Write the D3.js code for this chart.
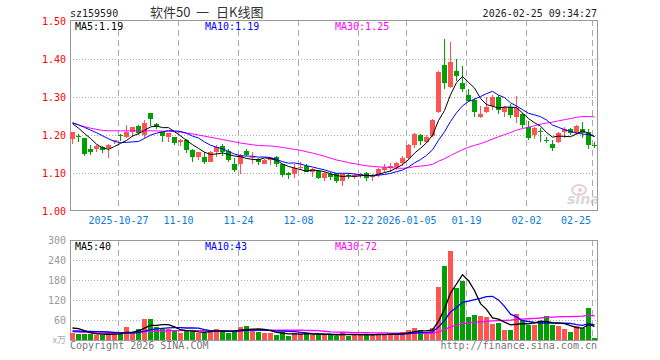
<!DOCTYPE html>
<html><head><meta charset="utf-8">
<script src="https://cdn.jsdelivr.net/npm/d3@7/dist/d3.min.js"></script>
<style>body{margin:0;background:#fff}svg{display:block}</style>
</head><body>
<svg id="chart" width="660" height="360"></svg>
<script>
// ---- data ----
const dates = ["10-15","10-16","10-17","10-20","10-21","10-22","10-23","10-24","10-27","10-28","10-29","10-30","10-31",
"11-03","11-04","11-05","11-06","11-07","11-10","11-11","11-12","11-13","11-14","11-17","11-18","11-19","11-20","11-21","11-24","11-25","11-26","11-27","11-28",
"12-01","12-02","12-03","12-04","12-05","12-08","12-09","12-10","12-11","12-12","12-15","12-16","12-17","12-18","12-19","12-22","12-23","12-24","12-25","12-26","12-29","12-30","12-31",
"01-05","01-06","01-07","01-08","01-09","01-12","01-13","01-14","01-15","01-16","01-19","01-20","01-21","01-22","01-23","01-26","01-27","01-28","01-29","01-30",
"02-02","02-03","02-04","02-05","02-06","02-09","02-10","02-11","02-12","02-13","02-24","02-25"];
const open = [1.189,1.198,1.191,1.163,1.162,1.168,1.165,1.185,1.201,1.196,1.207,1.224,1.200,1.257,1.230,1.207,1.196,1.194,1.182,1.187,1.161,1.142,1.143,1.130,1.156,1.172,1.158,1.124,1.123,1.158,
1.139,1.136,1.124,1.134,1.143,1.123,1.101,1.097,1.113,1.118,1.102,1.105,1.088,1.098,1.099,1.080,1.095,1.090,1.093,1.099,1.089,1.095,1.108,1.113,1.115,1.126,1.139,1.174,1.200,1.182,
1.197,1.261,1.384,1.327,1.368,1.338,1.305,1.292,1.247,1.261,1.276,1.299,1.261,1.273,1.247,1.255,1.222,1.200,1.211,1.187,1.176,1.182,1.207,1.216,1.204,1.216,1.207,1.175];
const high = [1.209,1.203,1.193,1.174,1.173,1.170,1.176,1.188,1.202,1.226,1.221,1.226,1.239,1.258,1.232,1.208,1.206,1.196,1.189,1.190,1.163,1.156,1.154,1.159,1.174,1.176,1.163,1.139,1.149,1.163,
1.156,1.139,1.137,1.143,1.145,1.125,1.103,1.123,1.128,1.123,1.112,1.108,1.103,1.103,1.100,1.098,1.099,1.099,1.100,1.103,1.097,1.112,1.124,1.126,1.130,1.145,1.176,1.205,1.203,1.200,
1.242,1.368,1.453,1.446,1.399,1.382,1.320,1.297,1.276,1.301,1.305,1.305,1.276,1.282,1.303,1.257,1.238,1.222,1.218,1.196,1.187,1.208,1.222,1.218,1.226,1.235,1.215,1.181];
const low = [1.177,1.182,1.146,1.147,1.156,1.153,1.140,1.176,1.183,1.191,1.194,1.200,1.191,1.224,1.215,1.182,1.182,1.174,1.172,1.152,1.128,1.134,1.125,1.128,1.141,1.145,1.130,1.103,1.097,1.145,
1.123,1.121,1.123,1.121,1.117,1.090,1.084,1.086,1.108,1.102,1.090,1.084,1.079,1.082,1.074,1.066,1.083,1.083,1.088,1.080,1.080,1.090,1.099,1.103,1.108,1.118,1.134,1.165,1.174,1.178,
1.195,1.257,1.320,1.323,1.343,1.314,1.287,1.247,1.245,1.257,1.266,1.255,1.248,1.244,1.232,1.218,1.187,1.189,1.182,1.178,1.158,1.178,1.193,1.200,1.200,1.191,1.163,1.167];
const close = [1.208,1.194,1.150,1.156,1.171,1.161,1.174,1.187,1.197,1.209,1.220,1.204,1.231,1.242,1.222,1.198,1.204,1.178,1.187,1.161,1.143,1.155,1.128,1.156,1.169,1.156,1.134,1.108,1.147,1.147,
1.143,1.128,1.134,1.139,1.123,1.095,1.095,1.114,1.117,1.103,1.110,1.088,1.099,1.090,1.080,1.097,1.094,1.095,1.097,1.086,1.095,1.110,1.117,1.119,1.126,1.139,1.174,1.203,1.184,1.196,
1.239,1.367,1.336,1.391,1.356,1.320,1.290,1.261,1.255,1.274,1.299,1.266,1.274,1.253,1.270,1.226,1.193,1.219,1.209,1.186,1.165,1.206,1.216,1.204,1.224,1.204,1.174,1.174];
const volume = [22,19,19,18,16,16,17,21,21,39,21,33,63,63,38,33,34,28,21,26,27,21,21,31,34,26,21,26,39,42,
34,24,21,21,14,24,12,21,18,21,16,15,16,15,13,23,13,16,16,16,16,19,17,18,18,23,30,36,30,19,
36,159,222,267,156,176,68,75,71,69,48,51,29,31,77,59,45,45,55,71,45,42,34,24,41,36,96,6];
// moving-average values for days before a full window exists
const ma5Lead = [1.230,1.218,1.204,1.191];
const ma10Lead = [1.232,1.227,1.220,1.213,1.206,1.198,1.190,1.183,1.180];
const ma30Lead = [1.232,1.226,1.222,1.218,1.215,1.212,1.211,1.211,1.211,1.211,1.211,1.211,1.211,1.211,1.211,1.210,1.210,1.209,1.207,1.205,1.203,1.200,1.197,1.194,1.191,1.188,1.185,1.182,1.179];
const vma5Lead = [36,34,28,22];
const vma10Lead = [27,27,26,26,25,25,24,23,22];
const vma30Lead = [25,24,23,22,21,21,21,21,21,22,22,23,25,26,27,27,28,28,28,28,28,28,28,28,28,28,28,28,28];
const priceTicks = [1.00,1.10,1.20,1.30,1.40,1.50];
const volTicks = [60,120,180,240,300];
const tickDates = ["10-27","11-10","11-24","12-08","12-22","01-05","01-19","02-02","02-25"];
const tickLabels = ["2025-10-27","11-10","11-24","12-08","12-22","2026-01-05","01-19","02-02","02-25"];
const maLabels = {price:["MA5:1.19","MA10:1.19","MA30:1.25"], vol:["MA5:40","MA10:43","MA30:72"]};

// ---- helpers ----
function movingAvg(arr, n, lead){
  return arr.map((_, i) => i < n-1 ? lead[i] : d3.mean(arr.slice(i-n+1, i+1)));
}
const RED = "#ff5454", GREEN = "#00a000";
const MONO = "'DejaVu Sans Mono', monospace";
const svg = d3.select("#chart");
const L = 70, R = 598;
const x = d3.scaleBand().domain(dates).range([L, R]).padding(0);
const bw = x.bandwidth() - 1;
const cx = d => x(d) + bw/2;
const y = d3.scaleLinear().domain([1.0, 1.5]).range([211, 21]);
const yv = d3.scaleLinear().domain([0, 300]).range([340, 240]);
const data = dates.map((d, i) => ({d, o:open[i], h:high[i], l:low[i], c:close[i], v:volume[i], up: close[i] >= open[i]}));

// ---- header ----
svg.append("text").attr("x", 70).attr("y", 17).attr("font-family", MONO).attr("font-size", 10).attr("fill", "#222").text("sz159590");
const title = svg.append("text").attr("y", 17).attr("font-family", "'Noto Sans CJK SC', sans-serif").attr("font-size", 13).attr("fill", "#333");
[["软件50", 150], ["一", 196], ["日K线图", 216]].forEach(([t, tx]) => title.append("tspan").attr("x", tx).text(t));
svg.append("text").attr("x", 597).attr("y", 16.5).attr("text-anchor", "end").attr("font-family", MONO).attr("font-size", 10).attr("fill", "#222").text("2026-02-25 09:34:27");

function panelGrid(top, bottom, ys){
  const g = svg.append("g");
  ys.forEach(v => g.append("line").attr("x1", L).attr("x2", R).attr("y1", Math.round(v)+0.5).attr("y2", Math.round(v)+0.5)
    .attr("stroke", "#aaa").attr("stroke-dasharray", "1,2"));
  tickDates.forEach(d => g.append("line").attr("x1", x(d)+0.5).attr("x2", x(d)+0.5).attr("y1", top).attr("y2", bottom)
    .attr("stroke", "#aaa").attr("stroke-dasharray", "6,4"));
  g.append("rect").attr("x", L+0.5).attr("y", top+0.5).attr("width", R-L-1).attr("height", bottom-top)
    .attr("fill", "none").attr("stroke", "#999");
}
panelGrid(20, 210, priceTicks.filter(t => t > 1.0 && t < 1.5).map(y));
panelGrid(240, 340, volTicks.filter(t => t < 300).map(yv));

// sina watermark
const wm = svg.append("g").attr("opacity", 0.55);
wm.append("ellipse").attr("cx", 579).attr("cy", 190).attr("rx", 7).attr("ry", 5).attr("fill", "none").attr("stroke", "#e3a3a3").attr("stroke-width", 2);
wm.append("circle").attr("cx", 580).attr("cy", 190).attr("r", 2).attr("fill", "#e3a3a3");
wm.append("text").attr("x", 567).attr("y", 204).attr("font-family", "'DejaVu Sans', sans-serif").attr("font-style", "italic").attr("font-weight", "bold")
  .attr("font-size", 14).attr("fill", "#bbb").text("sina");

// axis labels
priceTicks.forEach(t => svg.append("text").attr("x", 66).attr("y", y(t)).attr("dy", "0.35em").attr("text-anchor", "end")
  .attr("font-family", MONO).attr("font-size", 10).attr("fill", "#f00").text(t.toFixed(2)));
volTicks.forEach(t => svg.append("text").attr("x", 66).attr("y", yv(t)).attr("dy", "0.35em").attr("text-anchor", "end")
  .attr("font-family", MONO).attr("font-size", 10).attr("fill", "#999").text(t));
svg.append("text").attr("x", 66).attr("y", 343).attr("text-anchor", "end").attr("font-family", "'Noto Sans CJK SC', sans-serif").attr("font-size", 9).attr("fill", "#aaa").text("x万");
tickDates.forEach((d, i) => {
  const last = i === tickDates.length - 1;
  svg.append("text").attr("x", last ? x(d) - 1 : x(d) + 0.5).attr("y", 224).attr("text-anchor", last ? "end" : "middle")
    .attr("font-family", MONO).attr("font-size", 10).attr("fill", "#0a7bd8").text(tickLabels[i]);
});

// candles
const cg = svg.append("g").attr("shape-rendering", "crispEdges");
cg.selectAll("line.w").data(data).join("line").attr("class", "w")
  .attr("x1", d => x(d.d) + 2.5).attr("x2", d => x(d.d) + 2.5)
  .attr("y1", d => y(d.h)).attr("y2", d => y(d.l)).attr("stroke", d => d.up ? RED : GREEN);
cg.selectAll("rect.b").data(data).join("rect").attr("class", "b")
  .attr("x", d => x(d.d)).attr("width", bw)
  .attr("y", d => y(Math.max(d.o, d.c))).attr("height", d => Math.max(1, Math.abs(y(d.o) - y(d.c))))
  .attr("fill", d => d.up ? RED : GREEN);

// volume bars
cg.selectAll("rect.v").data(data).join("rect").attr("class", "v")
  .attr("x", d => x(d.d)).attr("width", bw)
  .attr("y", d => yv(d.v)).attr("height", d => 340 - yv(d.v))
  .attr("fill", d => d.up ? RED : GREEN);

// moving averages
const maDefs = [
  {n:5, col:"#000", lead:ma5Lead, vlead:vma5Lead},
  {n:10, col:"#0000ff", lead:ma10Lead, vlead:vma10Lead},
  {n:30, col:"#ff00ff", lead:ma30Lead, vlead:vma30Lead}
];
maDefs.reverse().forEach(m => {
  const pm = movingAvg(close, m.n, m.lead);
  const vm = movingAvg(volume, m.n, m.vlead);
  svg.append("path").datum(pm).attr("fill", "none").attr("stroke", m.col).attr("stroke-width", 1)
    .attr("d", d3.line().x((v, i) => cx(dates[i])).y(v => y(v)));
  svg.append("path").datum(vm).attr("fill", "none").attr("stroke", m.col).attr("stroke-width", 1.3)
    .attr("d", d3.line().x((v, i) => cx(dates[i])).y(v => yv(v)));
});

// MA legends
const legX = [75, 205, 335], legCol = ["#000", "#0000ff", "#ff00ff"];
legX.forEach((lx, i) => {
  svg.append("text").attr("x", lx).attr("y", 29.5).attr("font-family", MONO).attr("font-size", 10).attr("fill", legCol[i]).text(maLabels.price[i]);
  svg.append("text").attr("x", lx).attr("y", 250).attr("font-family", MONO).attr("font-size", 10).attr("fill", legCol[i]).text(maLabels.vol[i]);
});

// footer
svg.append("text").attr("x", 70).attr("y", 348.5).attr("font-family", MONO).attr("font-size", 10).attr("fill", "#777").text("Copyright 2026 SINA.COM");
svg.append("text").attr("x", 597).attr("y", 348.5).attr("text-anchor", "end").attr("font-family", MONO).attr("font-size", 10).attr("fill", "#777").text("http://finance.sina.com.cn");
</script>
</body></html>
